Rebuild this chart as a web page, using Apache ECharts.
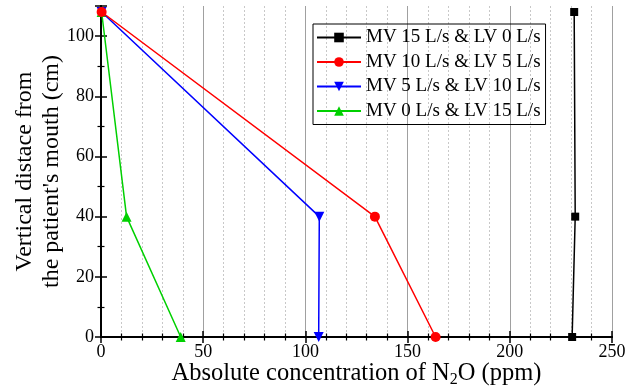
<!DOCTYPE html>
<html>
<head>
<meta charset="utf-8">
<script src="https://cdn.jsdelivr.net/npm/echarts@6/dist/echarts.min.js"></script>
<style>
  html, body { margin: 0; padding: 0; background: #fff; }
  #chart { width: 637px; height: 391px; }
</style>
</head>
<body>
<div id="chart"></div>
<script>
// heights (cm) at which N2O was measured
const heights = [0, 40, 108];
const seriesNames = [
  "MV 15 L/s & LV 0 L/s",
  "MV 10 L/s & LV 5 L/s",
  "MV 5 L/s & LV 10 L/s",
  "MV 0 L/s & LV 15 L/s",
];
// concentration (ppm) at each height
const mv15 = [230.5, 232, 231.5];
const mv10 = [163.7, 134, 0.3];
const mv5 = [106.5, 106.8, 0.3];
const mv0 = [39, 12.5, 0.3];

const colors = ["#000000", "#ff0000", "#0000ff", "#00d000"];
const symbols = ["rect", "circle", "triangle", "triangle"];
const font = "'Liberation Serif', 'Times New Roman', serif";

const chart = echarts.init(document.getElementById("chart"));

const makeSeries = (name, vals, i) => ({
  name: name,
  type: "line",
  data: vals.map((v, k) => [v, heights[k]]),
  symbol: symbols[i],
  symbolSize: i === 0 ? 8 : 10,
  symbolRotate: i === 2 ? 180 : 0,
  lineStyle: { color: colors[i], width: 1.5 },
  itemStyle: { color: colors[i] },
  z: 10 - i,
});

const tickStyle = { show: true, inside: true, length: 6, lineStyle: { color: "#000", width: 1.5 } };
const minorStyle = { show: true, length: 3.5, lineStyle: { color: "#000", width: 1.2 } };

chart.setOption({
  animation: false,
  grid: { left: 101, right: 25, top: 6, bottom: 54, outerBoundsMode: "none", containLabel: false },
  legend: {
    orient: "vertical",
    left: 313,
    top: 24,
    padding: [4, 5, 4, 3],
    itemGap: 5.5,
    itemWidth: 44,
    itemHeight: 12,
    borderColor: "#000",
    borderWidth: 1,
    data: seriesNames,
    textStyle: { fontFamily: font, fontSize: 19, color: "#000" },
  },
  xAxis: [
    {
      type: "value",
      min: 0,
      max: 250,
      interval: 50,
      name: "Absolute concentration of N{sub|2}O (ppm)",
      nameLocation: "middle",
      nameMoveOverlap: false,
      nameGap: 22,
      nameTextStyle: {
        fontFamily: font, fontSize: 24.5, color: "#000", verticalAlign: "top",
        rich: { sub: { fontFamily: font, fontSize: 16, verticalAlign: "bottom", padding: [13, 0, 0, 0] } },
      },
      axisLine: { show: true, lineStyle: { color: "#000", width: 2 } },
      axisTick: tickStyle,
      minorTick: Object.assign({ splitNumber: 5 }, minorStyle),
      axisLabel: { fontFamily: font, fontSize: 18, color: "#000", margin: 6 },
      splitLine: { show: true, lineStyle: { color: "#a0a0a0", width: 1 } },
      minorSplitLine: { show: true, lineStyle: { color: "#c8c8c8", width: 1, type: [2, 2] } },
    },
    {
      type: "value",
      position: "top",
      min: 0,
      max: 250,
      interval: 50,
      axisLine: { show: true, lineStyle: { color: "#000", width: 2 } },
      axisTick: tickStyle,
      minorTick: Object.assign({ splitNumber: 5 }, minorStyle),
      axisLabel: { show: false },
      splitLine: { show: false },
    },
  ],
  yAxis: [
    {
      type: "value",
      min: 0,
      max: 110,
      interval: 20,
      name: "Vertical distace from\nthe patient's mouth (cm)",
      nameLocation: "middle",
      nameMoveOverlap: false,
      nameGap: 36,
      nameTextStyle: { fontFamily: font, fontSize: 24, color: "#000", lineHeight: 27 },
      axisLine: { show: true, lineStyle: { color: "#000", width: 2 } },
      axisTick: tickStyle,
      minorTick: Object.assign({ splitNumber: 2 }, minorStyle),
      axisLabel: { fontFamily: font, fontSize: 18, color: "#000", margin: 7, showMaxLabel: false },
      splitLine: { show: false },
    },
    {
      type: "value",
      position: "right",
      min: 0,
      max: 110,
      interval: 20,
      axisLine: { show: true, lineStyle: { color: "#000", width: 2 } },
      axisTick: tickStyle,
      minorTick: Object.assign({ splitNumber: 2 }, minorStyle),
      axisLabel: { show: false },
      splitLine: { show: false },
    },
  ],
  series: [
    makeSeries(seriesNames[0], mv15, 0),
    makeSeries(seriesNames[1], mv10, 1),
    makeSeries(seriesNames[2], mv5, 2),
    makeSeries(seriesNames[3], mv0, 3),
  ],
});
</script>
</body>
</html>
